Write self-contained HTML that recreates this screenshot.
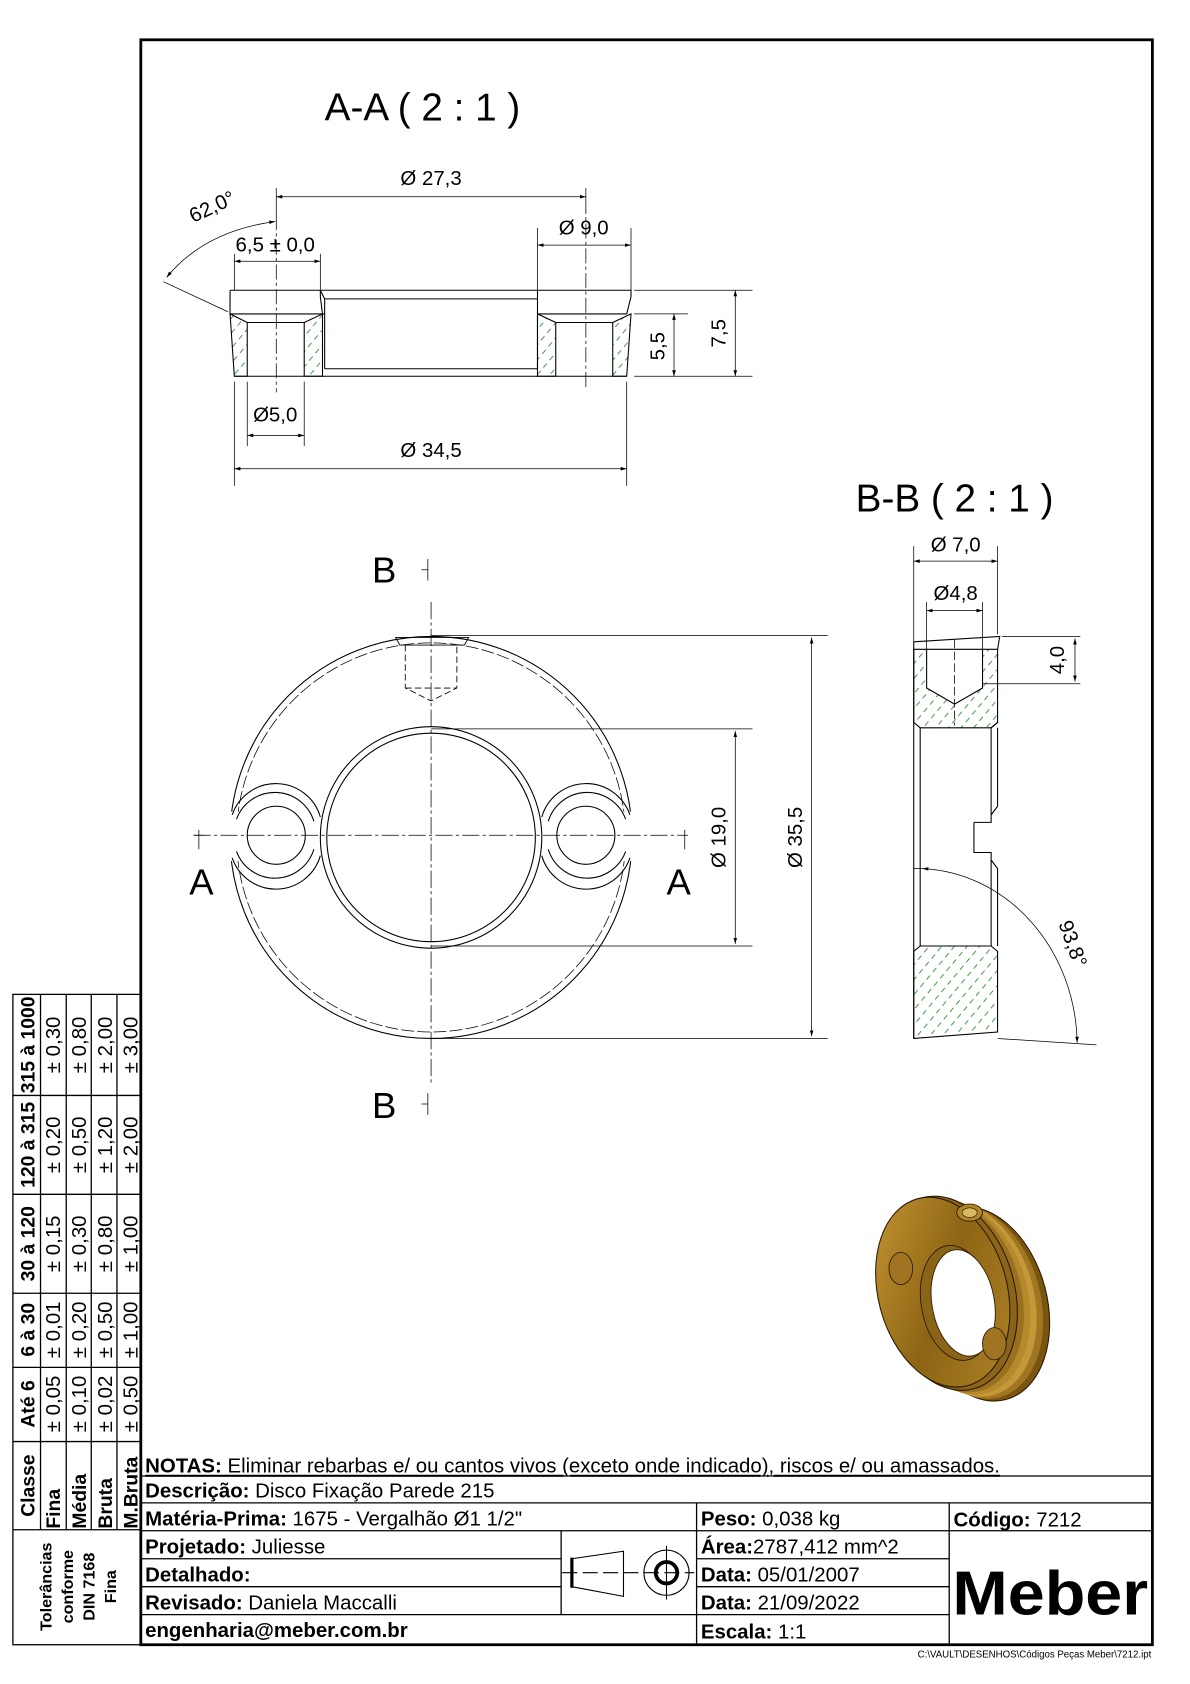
<!DOCTYPE html>
<html><head><meta charset="utf-8"><style>
html,body{margin:0;padding:0;background:#fff}
svg{display:block}
text{font-family:"Liberation Sans",Arial,sans-serif;fill:#000}
</style></head><body>
<svg width="1190" height="1684" viewBox="0 0 1107 1566.5" xmlns="http://www.w3.org/2000/svg">
<defs>
<pattern id="h" width="9" height="9" patternUnits="userSpaceOnUse" patternTransform="rotate(-50)">
<line x1="0" y1="4" x2="5" y2="4" stroke="#2a8a2a" stroke-width="0.8"/>
</pattern>
<marker id="a" viewBox="0 0 10 6" refX="10" refY="3" markerWidth="8" markerHeight="5" orient="auto-start-reverse"><path d="M0,0 L10,3 L0,6 z" fill="#000"/></marker>
<linearGradient id="g" x1="0" y1="0" x2="1" y2="1"><stop offset="0" stop-color="#c89a34"/><stop offset="0.5" stop-color="#8d6414"/><stop offset="1" stop-color="#b2852a"/></linearGradient>
</defs>

<rect x="131" y="37" width="941" height="1493" fill="none" stroke="#000" stroke-width="2.6"/>

<!-- ===== A-A ===== -->
<text x="302" y="112" font-size="36">A-A ( 2 : 1 )</text>
<g stroke="#000" stroke-width="1" fill="none">
<polygon points="214,292 230,300 230,350 218,350" fill="url(#h)"/>
<polygon points="283,300 300,292 300,350 283,350" fill="url(#h)"/>
<polygon points="500,292 517,300 517,350 500,350" fill="url(#h)"/>
<polygon points="570,300 587,292 583,350 570,350" fill="url(#h)"/>
<path d="M214,270 L587,270 L587,276 L583,292 L500,292 M214,270 L214,292 L300,292 L298,276 L298,270"/>
<path d="M230,300 L283,300 M517,300 L570,300 M218,350 L583,350"/>
<path d="M302,278 L500,278 M302,343 L500,343 M302,278 L302,343 M500,278 L500,343 M300,292 L302,292 M298,270 L302,278 M500,270 L500,278"/>
</g>
<g stroke="#000" stroke-width="0.7" fill="none">
<path d="M257,200 L257,365 M545,185 L545,360" stroke-dasharray="14,3,3,3"/>
<path d="M257,175 L257,200 M545,175 L545,185"/>
<line x1="257" y1="183" x2="545" y2="183" marker-start="url(#a)" marker-end="url(#a)"/>
<path d="M500,212 L500,270 M587,212 L587,270"/>
<line x1="500" y1="228" x2="587" y2="228" marker-start="url(#a)" marker-end="url(#a)"/>
<path d="M218,236 L218,270 M298,236 L298,270"/>
<line x1="218" y1="243" x2="298" y2="243" marker-start="url(#a)" marker-end="url(#a)"/>
<path d="M152,262 L212,290"/>
<path d="M155,258 Q190,215 256,206" marker-start="url(#a)" marker-end="url(#a)"/>
<path d="M230,355 L230,415 M283,355 L283,415"/>
<line x1="230" y1="405" x2="283" y2="405" marker-start="url(#a)" marker-end="url(#a)"/>
<path d="M218,355 L218,452 M583,355 L583,452"/>
<line x1="218" y1="436" x2="583" y2="436" marker-start="url(#a)" marker-end="url(#a)"/>
<path d="M590,292 L640,292 M590,350 L700,350 M590,270 L700,270"/>
<line x1="627" y1="292" x2="627" y2="350" marker-start="url(#a)" marker-end="url(#a)"/>
<line x1="684" y1="270" x2="684" y2="350" marker-start="url(#a)" marker-end="url(#a)"/>
</g>
<g font-size="19">
<text x="401" y="172" text-anchor="middle">Ø 27,3</text>
<text x="543" y="218" text-anchor="middle">Ø 9,0</text>
<text x="256" y="234" text-anchor="middle">6,5 ± 0,0</text>
<text x="256" y="392" text-anchor="middle">Ø5,0</text>
<text x="401" y="425" text-anchor="middle">Ø 34,5</text>
<text transform="translate(200,198) rotate(-25)" text-anchor="middle">62,0°</text>
<text transform="translate(618,322) rotate(-90)" text-anchor="middle">5,5</text>
<text transform="translate(675,310) rotate(-90)" text-anchor="middle">7,5</text>
</g>

<!-- ===== front view ===== -->
<g stroke="#000" stroke-width="1" fill="none">
<circle cx="401" cy="779" r="187"/>
<circle cx="401" cy="779" r="181" stroke-width="0.7" stroke-dasharray="12,3"/>
</g>
<rect x="208" y="755" width="18" height="46" fill="#fff"/>
<rect x="576" y="755" width="18" height="46" fill="#fff"/>
<g stroke="#000" stroke-width="0.7" fill="none">
<path d="M401,560 L401,1010 M180,777 L640,777" stroke-dasharray="16,3,3,3"/>
<path d="M398,520 L398,540 M392,530 L398,530 M398,1017 L398,1037 M392,1027 L398,1027 M185,772 L185,790 M180,777 L190,777 M637,772 L637,790"/>
</g>
<g stroke="#000" stroke-width="1" fill="none">
<circle cx="401" cy="779" r="103"/>
<circle cx="401" cy="779" r="97"/>
<circle cx="257" cy="777" r="27"/>
<circle cx="545" cy="777" r="27"/>
<path d="M216,758 A43,43 0 0 1 298,760 M216,798 A43,43 0 0 0 298,796"/>
<path d="M220,762 A38,38 0 0 1 292,764 M220,792 A38,38 0 0 0 292,790"/>
<path d="M504,760 A43,43 0 0 1 586,758 M504,796 A43,43 0 0 0 586,798"/>
<path d="M510,764 A38,38 0 0 1 582,762 M510,790 A38,38 0 0 0 582,792"/>
<path d="M368,593 L436,593 L432,600 L372,600 Z" stroke-width="0.8"/>
<path d="M377,600 L377,640 L401,652 L425,640 L425,600 M377,640 L425,640" stroke-dasharray="6,3" stroke-width="0.8"/>
</g>
<g stroke="#000" stroke-width="0.7" fill="none">
<path d="M401,678 L700,678 M401,880 L700,880 M401,591 L770,591 M401,966 L770,966"/>
<line x1="684" y1="680" x2="684" y2="878" marker-start="url(#a)" marker-end="url(#a)"/>
<line x1="755" y1="593" x2="755" y2="964" marker-start="url(#a)" marker-end="url(#a)"/>
</g>
<g font-size="19">
<text transform="translate(675,779) rotate(-90)" text-anchor="middle">Ø 19,0</text>
<text transform="translate(746,779) rotate(-90)" text-anchor="middle">Ø 35,5</text>
</g>
<g font-size="34">
<text x="346" y="542">B</text>
<text x="346" y="1040">B</text>
<text x="176" y="832">A</text>
<text x="620" y="832">A</text>
</g>

<!-- ===== B-B ===== -->
<text x="796" y="476" font-size="36">B-B ( 2 : 1 )</text>
<g stroke="#000" stroke-width="1">
<path d="M850,604 L862,604 L862,640 L888,655 L914,640 L914,604 L928,604 L928,672 L922,677 L856,677 L850,672 Z" fill="url(#h)"/>
<path d="M850,966 L928,960 L928,885 L922,880 L856,880 L850,885 Z" fill="url(#h)"/>
<path d="M850,597 L930,592 L928,604 M850,597 L850,966 M862,604 L914,604" fill="none"/>
<path d="M856,677 L856,880 M922,677 L922,758 L928,750 M922,800 L928,808 L928,880 M922,800 L922,880 M928,677 L928,750 M906,765 L922,765 L922,758 M906,765 L906,793 L922,793 L922,800 M922,677 L928,672" fill="none"/>
</g>
<g stroke="#000" stroke-width="0.7" fill="none">
<path d="M888,595 L888,675" stroke-dasharray="8,3"/>
<path d="M850,508 L850,597 M928,508 L928,590 M862,560 L862,604 M914,560 L914,604"/>
<line x1="850" y1="522" x2="928" y2="522" marker-start="url(#a)" marker-end="url(#a)"/>
<line x1="862" y1="568" x2="914" y2="568" marker-start="url(#a)" marker-end="url(#a)"/>
<path d="M932,592 L1005,592 M914,636 L1005,636"/>
<line x1="1000" y1="594" x2="1000" y2="634" marker-start="url(#a)" marker-end="url(#a)"/>
<path d="M850,808 L858,808 M928,966 L1020,972"/>
<path d="M858,808 A150,165 0 0 1 1002,970" marker-start="url(#a)" marker-end="url(#a)"/>
</g>
<g font-size="19">
<text x="889" y="513" text-anchor="middle">Ø 7,0</text>
<text x="889" y="558" text-anchor="middle">Ø4,8</text>
<text transform="translate(990,614) rotate(-90)" text-anchor="middle">4,0</text>
<text transform="translate(992,880) rotate(70)" text-anchor="middle">93,8°</text>
</g>

<!-- ===== 3D ===== -->
<g>
<ellipse cx="912" cy="1213" rx="62" ry="92" transform="rotate(-15 912 1213)" fill="#7a5510" stroke="#2a1a00" stroke-width="1"/>
<ellipse cx="906" cy="1211" rx="62" ry="92" transform="rotate(-15 906 1211)" fill="#a07622"/>
<ellipse cx="900" cy="1209" rx="62" ry="92" transform="rotate(-15 900 1209)" fill="#c49838"/>
<ellipse cx="894" cy="1207" rx="62" ry="92" transform="rotate(-15 894 1207)" fill="#b48a2c"/>
<ellipse cx="888" cy="1205" rx="62" ry="92" transform="rotate(-15 888 1205)" fill="#9a7020"/>
<ellipse cx="882" cy="1203" rx="62" ry="92" transform="rotate(-15 882 1203)" fill="#8a6418" stroke="#2a1a00" stroke-width="1"/>
<ellipse cx="877" cy="1202" rx="60" ry="90" transform="rotate(-15 877 1202)" fill="url(#g)" stroke="#2a1a00" stroke-width="1"/>
<ellipse cx="890" cy="1212" rx="33" ry="54" transform="rotate(-10 890 1212)" fill="#8a6418" stroke="#2a1a00" stroke-width="0.8"/>
<ellipse cx="896" cy="1212" rx="29" ry="50" transform="rotate(-10 896 1212)" fill="#fff" stroke="#2a1a00" stroke-width="0.8"/>
<ellipse cx="838" cy="1180" rx="11" ry="15" fill="#a07422" stroke="#2a1a00" stroke-width="0.8"/>
<ellipse cx="925" cy="1250" rx="11" ry="15" fill="#a07422" stroke="#2a1a00" stroke-width="0.8"/>
<ellipse cx="902" cy="1128" rx="12" ry="8" fill="#b08428" stroke="#2a1a00" stroke-width="0.8"/>
<ellipse cx="902" cy="1128" rx="7" ry="4.5" fill="#d8b860" stroke="#2a1a00" stroke-width="0.6"/>
</g>

<!-- ===== tolerance table ===== -->
<g stroke="#000" stroke-width="1.2" fill="none">
<rect x="12" y="925" width="119" height="605"/>
<path d="M12,1019 L131,1019 M12,1111 L131,1111 M12,1203 L131,1203 M12,1272 L131,1272 M12,1341 L131,1341 M12,1423 L131,1423"/>
<path d="M37.7,925 L37.7,1423 M61.6,925 L61.6,1423 M84.9,925 L84.9,1423 M108.8,925 L108.8,1423"/>
</g>
<g font-size="19">
<g font-weight="bold" font-size="18">
<text transform="translate(32,972) rotate(-90)" text-anchor="middle">315 à 1000</text>
<text transform="translate(32,1065) rotate(-90)" text-anchor="middle">120 à 315</text>
<text transform="translate(32,1157) rotate(-90)" text-anchor="middle">30 à 120</text>
<text transform="translate(32,1237) rotate(-90)" text-anchor="middle">6 à 30</text>
<text transform="translate(32,1306) rotate(-90)" text-anchor="middle">Até 6</text>
<text transform="translate(32,1382) rotate(-90)" text-anchor="middle">Classe</text>
<text transform="translate(56,1422) rotate(-90)">Fina</text>
<text transform="translate(80,1422) rotate(-90)">Média</text>
<text transform="translate(104,1422) rotate(-90)">Bruta</text>
<text transform="translate(128,1422) rotate(-90)">M.Bruta</text>
</g>
<g>
<text transform="translate(56,972) rotate(-90)" text-anchor="middle">± 0,30</text>
<text transform="translate(80,972) rotate(-90)" text-anchor="middle">± 0,80</text>
<text transform="translate(104,972) rotate(-90)" text-anchor="middle">± 2,00</text>
<text transform="translate(128,972) rotate(-90)" text-anchor="middle">± 3,00</text>
<text transform="translate(56,1065) rotate(-90)" text-anchor="middle">± 0,20</text>
<text transform="translate(80,1065) rotate(-90)" text-anchor="middle">± 0,50</text>
<text transform="translate(104,1065) rotate(-90)" text-anchor="middle">± 1,20</text>
<text transform="translate(128,1065) rotate(-90)" text-anchor="middle">± 2,00</text>
<text transform="translate(56,1157) rotate(-90)" text-anchor="middle">± 0,15</text>
<text transform="translate(80,1157) rotate(-90)" text-anchor="middle">± 0,30</text>
<text transform="translate(104,1157) rotate(-90)" text-anchor="middle">± 0,80</text>
<text transform="translate(128,1157) rotate(-90)" text-anchor="middle">± 1,00</text>
<text transform="translate(56,1237) rotate(-90)" text-anchor="middle">± 0,01</text>
<text transform="translate(80,1237) rotate(-90)" text-anchor="middle">± 0,20</text>
<text transform="translate(104,1237) rotate(-90)" text-anchor="middle">± 0,50</text>
<text transform="translate(128,1237) rotate(-90)" text-anchor="middle">± 1,00</text>
<text transform="translate(56,1306) rotate(-90)" text-anchor="middle">± 0,05</text>
<text transform="translate(80,1306) rotate(-90)" text-anchor="middle">± 0,10</text>
<text transform="translate(104,1306) rotate(-90)" text-anchor="middle">± 0,02</text>
<text transform="translate(128,1306) rotate(-90)" text-anchor="middle">± 0,50</text>
</g>
<g font-weight="bold" font-size="15">
<text transform="translate(48,1476) rotate(-90)" text-anchor="middle">Tolerâncias</text>
<text transform="translate(68,1476) rotate(-90)" text-anchor="middle">conforme</text>
<text transform="translate(88,1476) rotate(-90)" text-anchor="middle">DIN 7168</text>
<text transform="translate(108,1476) rotate(-90)" text-anchor="middle">Fina</text>
</g>
</g>

<!-- ===== title block ===== -->
<g stroke="#000" stroke-width="1.2" fill="none">
<path d="M131,1373 L1072,1373 M131,1398 L1072,1398 M131,1424 L648,1424 M131,1450 L522,1450 M131,1476 L522,1476 M131,1502 L883,1502"/>
<path d="M648,1424 L883,1424 M648,1450 L883,1450 M648,1476 L883,1476 M883,1424 L1072,1424"/>
<path d="M522,1424 L522,1502 M648,1398 L648,1530 M883,1398 L883,1530"/>
</g>
<g stroke="#000" fill="none">
<path d="M532,1450 L580,1443 L580,1485 L532,1476" stroke-width="1"/>
<path d="M532,1449 L532,1477" stroke-width="3"/>
<path d="M523,1463 L646,1463" stroke-width="1" stroke-dasharray="14,5"/>
<path d="M620,1438 L620,1488" stroke-width="1"/>
<circle cx="620" cy="1463" r="21" stroke-width="1"/>
<circle cx="620" cy="1463" r="10" stroke-width="3.5"/>
</g>
<g font-size="19">
<text x="135" y="1370">
<tspan font-weight="bold" text-decoration="underline">NOTAS:</tspan><tspan text-decoration="underline"> Eliminar rebarbas e/ ou cantos vivos (exceto onde indicado), riscos e/ ou amassados.</tspan></text>
<text x="135" y="1393"><tspan font-weight="bold">Descrição:</tspan> Disco Fixação Parede 215</text>
<text x="135" y="1419"><tspan font-weight="bold">Matéria-Prima:</tspan> 1675 - Vergalhão Ø1 1/2"</text>
<text x="135" y="1445"><tspan font-weight="bold">Projetado:</tspan> Juliesse</text>
<text x="135" y="1471"><tspan font-weight="bold">Detalhado:</tspan></text>
<text x="135" y="1497"><tspan font-weight="bold">Revisado:</tspan> Daniela Maccalli</text>
<text x="135" y="1523" font-weight="bold">engenharia@meber.com.br</text>
<text x="652" y="1419"><tspan font-weight="bold">Peso:</tspan> 0,038 kg</text>
<text x="652" y="1445"><tspan font-weight="bold">Área:</tspan>2787,412 mm^2</text>
<text x="652" y="1471"><tspan font-weight="bold">Data:</tspan> 05/01/2007</text>
<text x="652" y="1497"><tspan font-weight="bold">Data:</tspan> 21/09/2022</text>
<text x="652" y="1524"><tspan font-weight="bold">Escala:</tspan> 1:1</text>
<text x="887" y="1420"><tspan font-weight="bold">Código:</tspan> 7212</text>
</g>
<text x="886" y="1502" font-size="58" font-weight="bold" textLength="182" lengthAdjust="spacingAndGlyphs">Meber</text>
<text x="1071" y="1542" font-size="9" text-anchor="end">C:\VAULT\DESENHOS\Códigos Peças Meber\7212.ipt</text>
</svg>
</body></html>
